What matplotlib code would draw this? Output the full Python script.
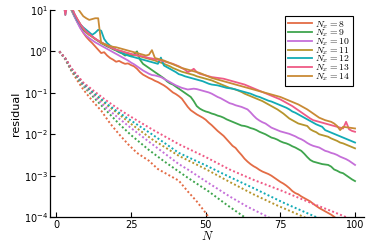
import numpy as np
import matplotlib
matplotlib.use('Agg')
import matplotlib.pyplot as plt
from matplotlib.ticker import LogLocator, NullLocator

plt.rcParams['mathtext.fontset'] = 'cm'

N = np.arange(1, 101)
nx_values = [8, 9, 10, 11, 12, 13, 14]
colors = ['#e36c45', '#3fa54e', '#c56fd9', '#b6952d', '#12abb5', '#ef5a86', '#c98a35']

# log10(residual), solid lines, N = 1..100
res_8 = [1.4, 1.4, 1.3, 1.2, 1.05, 0.88, 0.72, 0.58, 0.45, 0.35,
         0.27, 0.2, 0.12, 0.04, -0.04, -0.02, -0.1, -0.16, -0.2, -0.25,
         -0.23, -0.27, -0.3, -0.29, -0.33, -0.36, -0.42, -0.5, -0.56, -0.6,
         -0.64, -0.67, -0.71, -0.74, -0.78, -0.82, -0.87, -0.93, -0.99, -1.03,
         -1.08, -1.14, -1.24, -1.34, -1.42, -1.47, -1.52, -1.56, -1.6, -1.65,
         -1.72, -1.78, -1.85, -1.92, -1.98, -2.04, -2.12, -2.2, -2.28, -2.33,
         -2.42, -2.5, -2.59, -2.66, -2.72, -2.77, -2.81, -2.86, -2.9, -2.93,
         -2.96, -3.0, -3.05, -3.1, -3.15, -3.19, -3.24, -3.3, -3.37, -3.42,
         -3.45, -3.5, -3.54, -3.58, -3.62, -3.68, -3.73, -3.78, -3.82, -3.86,
         -3.9, -3.94, -3.99, -4.05, -4.1, -4.15, -4.2, -4.25, -4.3, -4.35]
res_9 = [1.4, 1.4, 1.3, 1.2, 1.0, 0.85, 0.72, 0.6, 0.52, 0.46,
         0.4, 0.36, 0.3, 0.25, 0.2, 0.16, 0.12, 0.09, 0.05, 0.02,
         -0.02, -0.05, -0.1, -0.08, -0.12, -0.07, 0.0, -0.2, -0.3, -0.35,
         -0.4, -0.45, -0.5, -0.55, -0.6, -0.65, -0.72, -0.77, -0.8, -0.85,
         -0.9, -0.95, -1.0, -1.05, -1.1, -1.2, -1.32, -1.38, -1.42, -1.45,
         -1.47, -1.5, -1.52, -1.55, -1.57, -1.6, -1.64, -1.67, -1.7, -1.73,
         -1.76, -1.79, -1.8, -1.82, -1.85, -1.87, -1.9, -1.94, -1.97, -2.0,
         -2.04, -2.08, -2.1, -2.13, -2.17, -2.2, -2.22, -2.25, -2.29, -2.32,
         -2.36, -2.4, -2.47, -2.55, -2.62, -2.66, -2.68, -2.7, -2.72, -2.73,
         -2.74, -2.78, -2.85, -2.88, -2.92, -2.94, -2.99, -3.04, -3.09, -3.13]
res_10 = [1.4, 1.4, 1.3, 1.2, 1.02, 0.85, 0.7, 0.56, 0.46, 0.38,
          0.32, 0.27, 0.22, 0.18, 0.14, 0.1, 0.06, 0.02, -0.02, -0.06,
          -0.1, -0.14, -0.18, -0.22, -0.27, -0.31, -0.36, -0.41, -0.46, -0.5,
          -0.54, -0.57, -0.58, -0.6, -0.62, -0.66, -0.7, -0.74, -0.78, -0.82,
          -0.85, -0.88, -0.9, -0.92, -0.91, -0.9, -0.91, -0.93, -0.95, -0.97,
          -0.99, -1.02, -1.06, -1.1, -1.13, -1.17, -1.21, -1.25, -1.27, -1.3,
          -1.32, -1.34, -1.37, -1.4, -1.47, -1.55, -1.62, -1.67, -1.71, -1.74,
          -1.79, -1.84, -1.87, -1.9, -1.93, -1.95, -1.97, -1.99, -2.02, -2.05,
          -2.09, -2.12, -2.16, -2.21, -2.25, -2.28, -2.3, -2.32, -2.36, -2.4,
          -2.42, -2.45, -2.47, -2.5, -2.54, -2.57, -2.6, -2.64, -2.69, -2.74]
res_11 = [1.4, 1.4, 1.3, 1.2, 1.05, 0.9, 0.78, 0.66, 0.55, 0.46,
          0.4, 0.35, 0.3, 0.26, 0.22, 0.18, 0.14, 0.1, 0.07, 0.04,
          0.02, 0.0, -0.03, -0.05, -0.07, -0.09, -0.1, -0.12, -0.14, -0.16,
          -0.18, -0.2, -0.22, -0.25, -0.27, -0.3, -0.33, -0.36, -0.4, -0.43,
          -0.46, -0.49, -0.51, -0.53, -0.55, -0.57, -0.6, -0.62, -0.64, -0.66,
          -0.68, -0.7, -0.73, -0.76, -0.79, -0.82, -0.85, -0.88, -0.9, -0.92,
          -0.95, -0.98, -1.02, -1.05, -1.08, -1.11, -1.14, -1.17, -1.2, -1.24,
          -1.28, -1.32, -1.36, -1.4, -1.45, -1.5, -1.56, -1.62, -1.66, -1.7,
          -1.74, -1.76, -1.78, -1.8, -1.88, -1.92, -1.95, -2.0, -2.02, -2.04,
          -2.06, -2.1, -2.13, -2.16, -2.2, -2.22, -2.25, -2.28, -2.31, -2.34]
res_12 = [1.4, 1.4, 0.88, 1.3, 1.1, 0.9, 0.75, 0.65, 0.58, 0.52,
          0.46, 0.4, 0.45, 0.52, 0.5, 0.3, 0.2, 0.14, 0.08, 0.04,
          0.0, -0.04, -0.07, -0.1, -0.12, -0.14, -0.16, -0.18, -0.2, -0.22,
          -0.24, -0.26, -0.28, -0.3, -0.15, -0.34, -0.38, -0.42, -0.46, -0.5,
          -0.55, -0.57, -0.6, -0.62, -0.64, -0.66, -0.68, -0.7, -0.72, -0.75,
          -0.78, -0.8, -0.81, -0.82, -0.84, -0.86, -0.88, -0.89, -0.9, -0.92,
          -0.94, -0.96, -0.98, -1.0, -1.02, -1.05, -1.08, -1.1, -1.13, -1.16,
          -1.19, -1.21, -1.24, -1.27, -1.3, -1.33, -1.36, -1.4, -1.45, -1.48,
          -1.52, -1.56, -1.6, -1.64, -1.68, -1.72, -1.76, -1.79, -1.82, -1.9,
          -1.93, -1.96, -1.99, -2.02, -2.05, -2.08, -2.11, -2.14, -2.17, -2.2]
res_13 = [1.4, 1.4, 0.88, 1.3, 1.1, 0.92, 0.78, 0.66, 0.56, 0.48,
          0.42, 0.36, 0.31, 0.26, 0.22, 0.18, 0.14, 0.1, 0.07, 0.04,
          0.02, 0.0, -0.02, -0.04, -0.06, -0.08, -0.09, -0.11, -0.12, -0.14,
          -0.16, -0.17, -0.19, -0.2, -0.22, -0.24, -0.26, -0.28, -0.3, -0.33,
          -0.36, -0.4, -0.44, -0.5, -0.47, -0.42, -0.5, -0.54, -0.56, -0.58,
          -0.6, -0.62, -0.63, -0.64, -0.65, -0.66, -0.68, -0.7, -0.72, -0.74,
          -0.76, -0.78, -0.8, -0.83, -0.86, -0.89, -0.92, -0.95, -0.98, -1.01,
          -1.04, -1.07, -1.1, -1.13, -1.16, -1.2, -1.24, -1.28, -1.32, -1.37,
          -1.42, -1.47, -1.52, -1.57, -1.62, -1.66, -1.68, -1.7, -1.72, -1.74,
          -1.76, -1.78, -1.8, -1.82, -1.84, -1.86, -1.7, -1.88, -1.92, -1.94]
res_14 = [1.4, 1.4, 1.3, 1.3, 1.25, 1.2, 1.05, 0.95, 0.85, 0.8,
          0.76, 0.78, 0.8, 0.8, 0.2, 0.18, 0.15, 0.13, 0.11, 0.1,
          0.08, 0.06, 0.04, 0.02, 0.0, -0.02, -0.04, -0.06, -0.08, -0.1,
          -0.08, 0.03, -0.16, -0.18, -0.2, -0.22, -0.25, -0.28, -0.31, -0.34,
          -0.37, -0.4, -0.42, -0.44, -0.46, -0.48, -0.5, -0.52, -0.55, -0.58,
          -0.61, -0.64, -0.66, -0.68, -0.7, -0.72, -0.74, -0.76, -0.78, -0.8,
          -0.82, -0.84, -0.86, -0.88, -0.9, -0.92, -0.94, -0.96, -0.98, -1.0,
          -1.02, -1.04, -1.06, -1.08, -1.1, -1.13, -1.16, -1.19, -1.22, -1.25,
          -1.28, -1.32, -1.36, -1.4, -1.45, -1.5, -1.55, -1.6, -1.63, -1.66,
          -1.68, -1.7, -1.74, -1.8, -1.9, -1.82, -1.83, -1.84, -1.85, -1.86]

# log10(residual), dotted lines (read at a few N values)
dot_8_N = [1, 3, 5, 7, 9, 11, 13, 15, 18, 21, 24, 27, 31, 34, 38, 41, 44, 47, 50, 52]
dot_8 = [0.0, -0.2, -0.47, -0.7, -0.92, -1.1, -1.27, -1.43, -1.74, -2.0, -2.24, -2.45,
         -2.64, -2.84, -3.0, -3.12, -3.38, -3.62, -3.9, -4.1]
dot_9_N = [1, 3, 5, 9, 13, 17, 21, 25, 31, 36, 41, 44, 51, 57, 63, 65]
dot_9 = [0.0, -0.18, -0.45, -0.83, -1.15, -1.45, -1.75, -2.02, -2.38, -2.65, -2.9, -3.05,
         -3.38, -3.7, -4.0, -4.1]
dot_10_N = [1, 3, 5, 9, 13, 17, 21, 25, 31, 36, 41, 44, 51, 58, 64, 71, 73]
dot_10 = [0.0, -0.18, -0.43, -0.8, -1.1, -1.38, -1.62, -1.85, -2.18, -2.45, -2.72, -2.85,
          -3.18, -3.5, -3.75, -4.0, -4.1]
dot_11_N = [1, 3, 5, 9, 13, 17, 21, 25, 32, 41, 50, 58, 66, 74, 83, 85]
dot_11 = [0.0, -0.17, -0.42, -0.78, -1.05, -1.3, -1.52, -1.75, -2.12, -2.52, -2.84, -3.15,
          -3.45, -3.72, -4.0, -4.08]
dot_12_N = [1, 3, 5, 9, 13, 17, 21, 25, 32, 41, 50, 58, 66, 76, 87, 89]
dot_12 = [0.0, -0.17, -0.42, -0.78, -1.03, -1.27, -1.48, -1.67, -2.0, -2.45, -2.75, -3.03,
          -3.3, -3.65, -4.0, -4.08]
dot_13_N = [1, 3, 5, 9, 13, 17, 21, 25, 32, 41, 50, 58, 66, 75, 85, 93, 97, 100]
dot_13 = [0.0, -0.16, -0.4, -0.75, -0.98, -1.2, -1.4, -1.58, -1.88, -2.24, -2.55, -2.85,
          -3.1, -3.35, -3.65, -3.88, -4.0, -4.1]

solid = [res_8, res_9, res_10, res_11, res_12, res_13, res_14]
dotted = [(dot_8_N, dot_8), (dot_9_N, dot_9), (dot_10_N, dot_10), (dot_11_N, dot_11),
          (dot_12_N, dot_12), (dot_13_N, dot_13)]

fig = plt.figure(figsize=(3.74, 2.49), dpi=100)
ax = fig.add_axes([0.135, 0.128, 0.838, 0.832])

for nx, r, c in zip(nx_values, solid, colors):
    ax.plot(N, 10.0 ** np.array(r), color=c, lw=1.3, label=r'$N_x = %d$' % nx)

for (xs, r), c in zip(dotted, colors):
    ax.plot(xs, 10.0 ** np.array(r), color=c, lw=1.4, ls=(0, (1, 1.2)))

ax.set_yscale('log')
ax.set_ylim(1e-4, 10)
ax.set_xlim(-1.97, 102.97)
ax.yaxis.set_major_locator(LogLocator(base=10, numticks=10))
ax.yaxis.set_minor_locator(NullLocator())
ax.set_xticks([0, 25, 50, 75, 100])

for s in ['top', 'right']:
    ax.spines[s].set_visible(False)
for s in ['left', 'bottom']:
    ax.spines[s].set_linewidth(0.9)
ax.tick_params(direction='in', length=3.5, width=0.8, labelsize=7, pad=2)

ax.set_ylabel('residual', fontsize=8, labelpad=2)
ax.set_xlabel('$N$', fontsize=9, labelpad=0)

leg = ax.legend(loc='upper right', bbox_to_anchor=(0.965, 0.971), borderaxespad=0,
                fontsize=7, labelspacing=-0.3, handlelength=2.5, handletextpad=0.35,
                borderpad=0.3, fancybox=False, edgecolor='black', framealpha=1)
leg.get_frame().set_linewidth(0.8)

fig.savefig('out.png', dpi=100)
